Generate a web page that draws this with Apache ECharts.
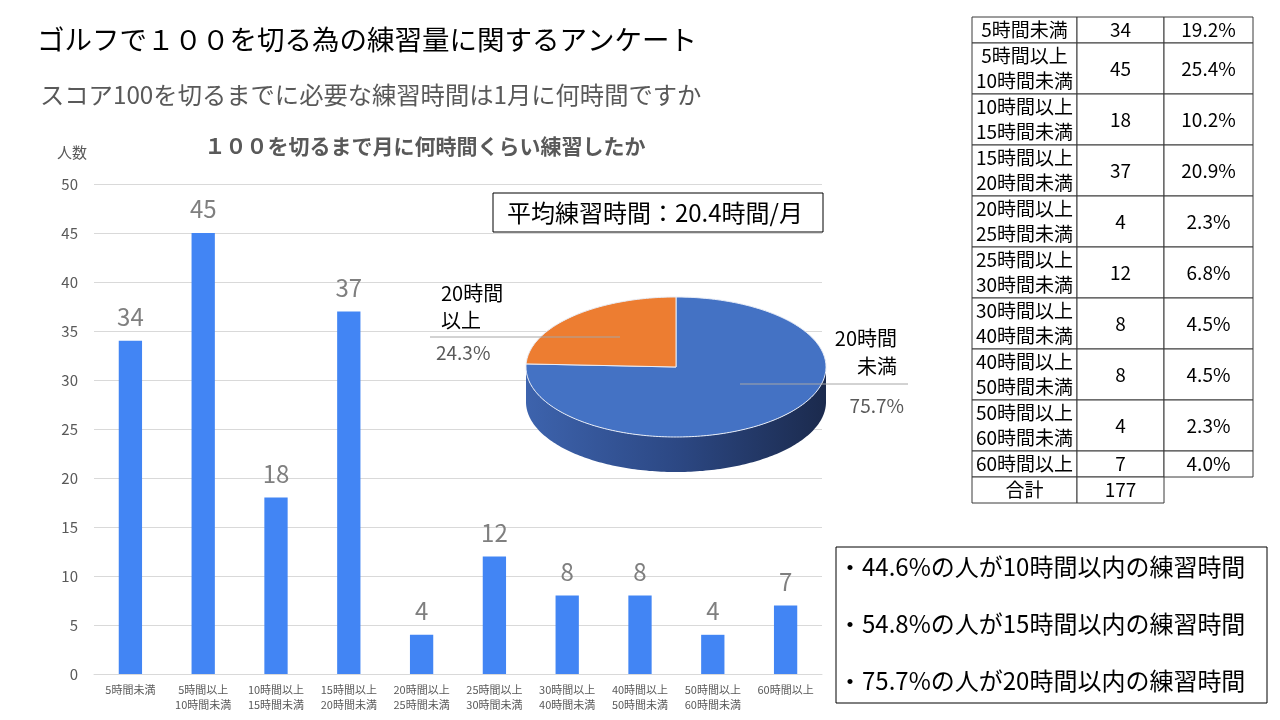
<!DOCTYPE html>
<html lang="ja">
<head>
  <meta charset="utf-8" />
  <title>ゴルフで１００を切る為の練習量に関するアンケート</title>
  <script src="https://cdn.jsdelivr.net/npm/echarts@6/dist/echarts.min.js"></script>
  <style>
    html, body { margin: 0; padding: 0; background: #fff; }
    #main { width: 1280px; height: 720px; }
  </style>
</head>
<body>
<div id="main"></div>
<script type="text/javascript">
    var FONT = '"Noto Sans CJK JP", "Noto Sans", sans-serif';

    // 練習時間の区分と人数
    var hourRanges = ['5時間未満', '5時間以上\n10時間未満', '10時間以上\n15時間未満', '15時間以上\n20時間未満',
        '20時間以上\n25時間未満', '25時間以上\n30時間未満', '30時間以上\n40時間未満', '40時間以上\n50時間未満',
        '50時間以上\n60時間未満', '60時間以上'];
    var peopleCounts = [34, 45, 18, 37, 4, 12, 8, 8, 4, 7];
    var peoplePercents = ['19.2%', '25.4%', '10.2%', '20.9%', '2.3%', '6.8%', '4.5%', '4.5%', '2.3%', '4.0%'];
    var totalCount = 177;

    // 20時間で分けた円グラフ
    var pieNames = ['20時間\n未満', '20時間\n以上'];
    var pieValues = [134, 43];
    var pieColors = ['#4472c4', '#ed7d31'];

    var mainTitle = 'ゴルフで１００を切る為の練習量に関するアンケート';
    var subTitle = 'スコア100を切るまでに必要な練習時間は1月に何時間ですか';
    var chartTitle = '１００を切るまで月に何時間くらい練習したか';
    var averageText = '平均練習時間：20.4時間/月';
    var summaryLines = ['・44.6%の人が10時間以内の練習時間', '・54.8%の人が15時間以内の練習時間', '・75.7%の人が20時間以内の練習時間'];

    var chartDom = document.getElementById('main');
    var myChart = echarts.init(chartDom);

    // 擬似3Dの円グラフ（楕円）
    var pieTotal = pieValues.reduce(function (a, b) { return a + b; }, 0);
    var cx = 676, cy = 367, rx = 150, ry = 70, depth = 35;
    function ellipsePt(t, dy) {
        return [cx + rx * Math.sin(t), cy - ry * Math.cos(t) + (dy || 0)];
    }
    function arcPts(a0, a1, dy) {
        var pts = [];
        var n = Math.max(2, Math.ceil((a1 - a0) / 0.02));
        for (var i = 0; i <= n; i++) {
            pts.push(ellipsePt(a0 + (a1 - a0) * i / n, dy));
        }
        return pts;
    }
    function renderPie(params, api) {
        var idx = params.dataIndex;
        var start = 0;
        for (var i = 0; i < idx; i++) start += pieValues[i];
        var a0 = start / pieTotal * Math.PI * 2;
        var a1 = (start + api.value(0)) / pieTotal * Math.PI * 2;
        var children = [{
            type: 'polygon',
            z2: 10,
            shape: { points: [[cx, cy]].concat(arcPts(a0, a1)) },
            style: { fill: pieColors[idx], stroke: '#e8edf7', lineWidth: 1 }
        }];
        var s0 = Math.max(a0, Math.PI / 2), s1 = Math.min(a1, Math.PI * 1.5);
        if (s1 > s0) {
            var front = arcPts(s0, s1);
            var back = arcPts(s0, s1, depth).reverse();
            var sideColors = idx === 0
                ? [{ offset: 0, color: '#3d63ad' }, { offset: 0.5, color: '#2c4884' }, { offset: 1, color: '#1b2a4d' }]
                : [{ offset: 0, color: '#c0611f' }, { offset: 1, color: '#8a4515' }];
            children.push({
                type: 'polygon',
                z2: 5,
                shape: { points: front.concat(back) },
                style: { fill: new echarts.graphic.LinearGradient(0, 0, 1, 0, sideColors) }
            });
        }
        return { type: 'group', children: children };
    }

    function pct(v) { return (v / pieTotal * 100).toFixed(1) + '%'; }

    // 表
    var tableGraphics = [];
    var colX = [972, 1077, 1164, 1253];
    var rowY = 17;
    function cell(x0, x1, y0, y1, text) {
        tableGraphics.push({
            type: 'rect', shape: { x: x0, y: y0, width: x1 - x0, height: y1 - y0 },
            style: { fill: '#fff', stroke: '#3a3a3a', lineWidth: 1 }, z: 20
        });
        tableGraphics.push({
            type: 'text', x: (x0 + x1) / 2, y: (y0 + y1) / 2, z: 21,
            style: { text: text, font: '19px ' + FONT, fill: '#000', align: 'center', verticalAlign: 'middle', lineHeight: 25 }
        });
    }
    for (var r = 0; r < hourRanges.length; r++) {
        var h = hourRanges[r].indexOf('\n') >= 0 ? 51 : 26;
        cell(colX[0], colX[1], rowY, rowY + h, hourRanges[r]);
        cell(colX[1], colX[2], rowY, rowY + h, String(peopleCounts[r]));
        cell(colX[2], colX[3], rowY, rowY + h, peoplePercents[r]);
        rowY += h;
    }
    cell(colX[0], colX[1], rowY, rowY + 26, '合計');
    cell(colX[1], colX[2], rowY, rowY + 26, String(totalCount));

    var summaryGraphics = summaryLines.map(function (t, i) {
        return {
            type: 'text', x: 838, y: 567 + i * 57, z: 21,
            style: { text: t, font: '24px ' + FONT, fill: '#000', verticalAlign: 'middle' }
        };
    });

    var option = {
        backgroundColor: '#fff',
        textStyle: { fontFamily: FONT },
        animation: false,
        title: {
            text: chartTitle,
            left: 420,
            top: 131,
            textAlign: 'center',
            textStyle: { fontSize: 21, fontWeight: 'bold', color: '#595959', fontFamily: FONT }
        },
        grid: { left: 94, right: 458, top: 184, bottom: 46 },
        xAxis: {
            type: 'category',
            data: hourRanges,
            axisLine: { lineStyle: { color: '#d9d9d9' } },
            axisTick: { show: false },
            axisLabel: { interval: 0, fontSize: 11, lineHeight: 15, color: '#595959', margin: 8 }
        },
        yAxis: {
            type: 'value',
            min: 0,
            max: 50,
            interval: 5,
            axisLine: { show: false },
            axisTick: { show: false },
            axisLabel: { fontSize: 15, color: '#595959', margin: 16 },
            splitLine: { lineStyle: { color: '#d9d9d9' } }
        },
        series: [{
            type: 'bar',
            data: peopleCounts,
            barWidth: '32%',
            itemStyle: { color: '#4285f4' },
            label: { show: true, position: 'top', distance: 12, fontSize: 24, color: '#7f7f7f' }
        }, {
            type: 'custom',
            coordinateSystem: 'none',
            z: 5,
            renderItem: renderPie,
            data: pieValues.map(function (v, i) { return { name: pieNames[i], value: [v] }; })
        }],
        graphic: [
            { type: 'text', x: 37, y: 40, style: { text: mainTitle, font: '27.5px ' + FONT, fill: '#000', verticalAlign: 'middle' } },
            { type: 'text', x: 40, y: 95, style: { text: subTitle, font: '24.3px ' + FONT, fill: '#595959', verticalAlign: 'middle' } },
            { type: 'text', x: 72, y: 152, style: { text: '人数', font: '15px ' + FONT, fill: '#595959', align: 'center', verticalAlign: 'middle' } },
            {
                type: 'rect', shape: { x: 493, y: 193, width: 330, height: 39 }, z: 20,
                style: { fill: '#fff', stroke: '#000', lineWidth: 1 }
            },
            { type: 'text', x: 655, y: 213, z: 21, style: { text: averageText, font: '24px ' + FONT, fill: '#000', align: 'center', verticalAlign: 'middle' } },
            // 円グラフのラベル
            { type: 'line', z: 20, shape: { x1: 430, y1: 337, x2: 620, y2: 337 }, style: { stroke: '#a6a6a6', lineWidth: 1 } },
            { type: 'line', z: 20, shape: { x1: 740, y1: 384, x2: 908, y2: 384 }, style: { stroke: '#a6a6a6', lineWidth: 1 } },
            { type: 'text', x: 441, y: 280, z: 21, style: { text: pieNames[1], font: '20px ' + FONT, fill: '#000', lineHeight: 27, verticalAlign: 'top' } },
            { type: 'text', x: 436, y: 353, z: 21, style: { text: pct(pieValues[1]), font: '19px ' + FONT, fill: '#595959', verticalAlign: 'middle' } },
            { type: 'text', x: 897, y: 324, z: 21, style: { text: pieNames[0], font: '20px ' + FONT, fill: '#000', lineHeight: 28, align: 'right', verticalAlign: 'top' } },
            { type: 'text', x: 904, y: 406, z: 21, style: { text: pct(pieValues[0]), font: '19px ' + FONT, fill: '#595959', align: 'right', verticalAlign: 'middle' } },
            {
                type: 'rect', shape: { x: 836, y: 547, width: 431, height: 156 }, z: 20,
                style: { fill: '#fff', stroke: '#000', lineWidth: 1 }
            }
        ].concat(tableGraphics, summaryGraphics)
    };
    option && myChart.setOption(option);
</script>
</body>
</html>
